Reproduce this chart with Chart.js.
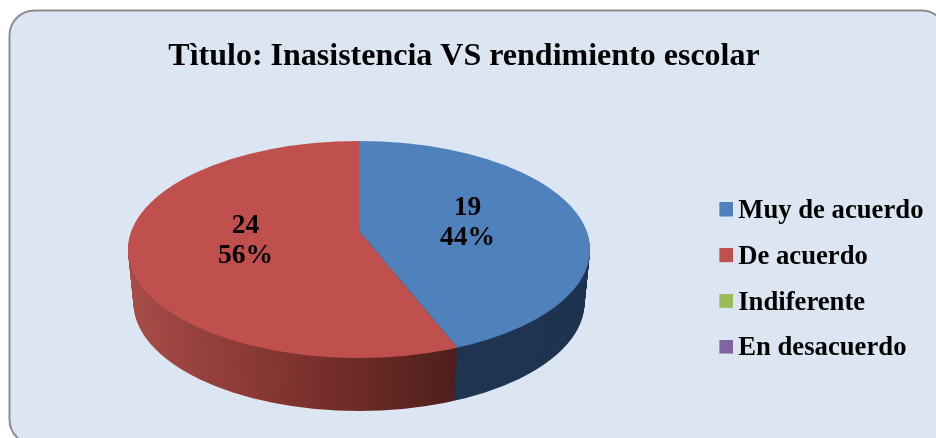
<!DOCTYPE html>
<html><head><meta charset="utf-8">
<style>html,body{margin:0;padding:0;background:#fff}canvas{display:block}</style>
<script src="https://cdn.jsdelivr.net/npm/chart.js@4/dist/chart.umd.js"></script>
</head><body><canvas id="c" width="936" height="438"></canvas>
<script>
const chartTitle = 'Tìtulo: Inasistencia VS rendimiento escolar';
const categories = ['Muy de acuerdo', 'De acuerdo', 'Indiferente', 'En desacuerdo'];
const counts = [19, 24, 0, 0];
const percentLabels = ['44%', '56%', '0%', '0%'];
const sliceColors = ['#4F81BD', '#C0504D', '#9BBB59', '#8064A2'];

const SERIF = '"Liberation Serif", "Times New Roman", serif';
const view = {apexX: 359, apexY: 231, tilt: 0.454, rimCx: 359, rimCy: 249.5, rimRx: 231, rimRy: 108.5, depth: 53, taper: 5.5, labelR: 113, labelDx: -2.5, labelDy: 1};

function shrink(d) { return 1 - (d / view.depth) * (view.taper / view.rimRx); }
function rimPath(ctx, dy) {
  ctx.beginPath();
  ctx.ellipse(view.rimCx, view.rimCy + dy, view.rimRx * shrink(dy), view.rimRy, 0, 0, Math.PI * 2);
  ctx.clip();
}
function project(ctx, arc, dy) {
  ctx.translate(view.apexX, view.apexY + dy);
  ctx.scale(shrink(dy), view.tilt);
  ctx.translate(-arc.x, -arc.y);
}
const pie3d = {
  id: 'pie3d',
  beforeDraw(chart) {
    const ctx = chart.ctx;
    ctx.save();
    ctx.beginPath();
    ctx.roundRect(9.5, 10.5, 937, 434, 25);
    ctx.fillStyle = '#DCE6F2';
    ctx.fill();
    ctx.lineWidth = 2;
    ctx.strokeStyle = '#8C8C8C';
    ctx.stroke();
    ctx.restore();
  },
  beforeDatasetsDraw(chart) {
    const ctx = chart.ctx;
    const arcs = chart.getDatasetMeta(0).data;
    const arcX = arcs[0].x;
    const toLocal = x => x - view.apexX + arcX;
    const redSide = ctx.createLinearGradient(toLocal(127), 0, toLocal(457), 0);
    redSide.addColorStop(0, '#A84C49');
    redSide.addColorStop(0.5, '#80332F');
    redSide.addColorStop(1, '#4E1F1C');
    const sides = ['#1F3552', redSide, '#5C7034', '#4A3A60'];
    for (let d = view.depth; d >= 1; d--) {
      arcs.forEach((arc, i) => {
        const keep = arc.options;
        arc.options = Object.assign({}, keep, {backgroundColor: sides[i]});
        ctx.save();
        rimPath(ctx, d);
        project(ctx, arc, d);
        arc.draw(ctx);
        ctx.restore();
        arc.options = keep;
      });
    }
    ctx.save();
    rimPath(ctx, 0);
    project(ctx, arcs[0], 0);
  },
  afterDatasetsDraw(chart) {
    const ctx = chart.ctx;
    ctx.restore();
    ctx.save();
    ctx.font = 'bold 27.5px ' + SERIF;
    ctx.fillStyle = '#000';
    ctx.textAlign = 'center';
    ctx.textBaseline = 'middle';
    chart.getDatasetMeta(0).data.forEach((arc, i) => {
      if (!counts[i]) return;
      const mid = (arc.startAngle + arc.endAngle) / 2;
      const x = view.apexX + Math.cos(mid) * view.labelR + view.labelDx;
      const y = view.apexY + Math.sin(mid) * view.labelR * view.tilt + view.labelDy;
      ctx.fillText(String(counts[i]), x, y - 15);
      ctx.fillText(percentLabels[i], x, y + 15);
    });
    ctx.restore();
  }
};
function swatch(color) {
  const s = document.createElement('canvas');
  s.width = 17; s.height = 18;
  const g = s.getContext('2d');
  g.fillStyle = color;
  g.fillRect(3, 0, 14, 14);
  return s;
}
new Chart(document.getElementById('c'), {
  type: 'pie',
  data: {
    labels: categories,
    datasets: [{data: counts, backgroundColor: sliceColors, borderWidth: 0, radius: 300, clip: false}]
  },
  plugins: [pie3d],
  options: {
    responsive: false,
    animation: false,
    events: [],
    layout: {padding: {left: -5.5, right: 2.5, top: 0, bottom: 0}},
    plugins: {
      tooltip: {enabled: false},
      title: {
        display: true,
        text: chartTitle,
        color: '#000',
        font: {family: SERIF, size: 32, weight: 'bold'},
        padding: {top: 38, bottom: 45.6}
      },
      legend: {
        position: 'right',
        fullSize: false,
        labels: {
          color: '#000',
          font: {family: SERIF, size: 26.7, weight: 'bold'},
          boxWidth: 0.01,
          boxHeight: 14,
          usePointStyle: true,
          padding: 19,
          generateLabels(chart) {
            return categories.map((t, i) => ({text: t, pointStyle: swatch(sliceColors[i]), fillStyle: sliceColors[i], strokeStyle: sliceColors[i], lineWidth: 0, hidden: false, index: i, fontColor: '#000'}));
          }
        }
      }
    }
  }
});
</script></body></html>
